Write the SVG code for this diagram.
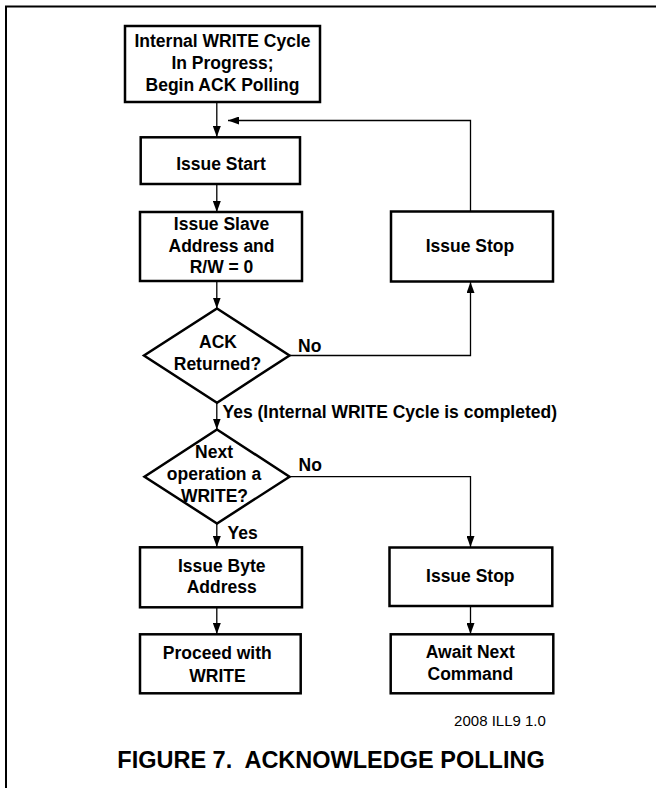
<svg xmlns="http://www.w3.org/2000/svg" width="656" height="788" viewBox="0 0 656 788">
<style>
.box{fill:#fff;stroke:#000;stroke-width:2.5}
.t{font-family:"Liberation Sans",Arial,sans-serif;font-weight:bold;font-size:17.5px;fill:#000;text-anchor:middle}
.l{font-family:"Liberation Sans",Arial,sans-serif;font-weight:bold;font-size:17.5px;fill:#000}
.c{fill:none;stroke:#000;stroke-width:1.3}
</style>
<defs>
<marker id="ah" markerUnits="userSpaceOnUse" markerWidth="11" markerHeight="8" refX="11" refY="4" orient="auto">
<path d="M0,0 L11,4 L0,8 z" fill="#000"/>
</marker>
</defs>
<rect width="656" height="788" fill="#fff"/>
<path d="M6,788 V6.5 H656" fill="none" stroke="#000" stroke-width="2"/>
<g id="connectors">
<path class="c" d="M216.8,102 V137" marker-end="url(#ah)"/>
<path class="c" d="M470.5,211 V120.5 H228" marker-end="url(#ah)"/>
<path class="c" d="M216.8,184 V212" marker-end="url(#ah)"/>
<path class="c" d="M216.8,281 V308.5" marker-end="url(#ah)"/>
<path class="c" d="M289.5,355.5 H470.5 V282" marker-end="url(#ah)"/>
<path class="c" d="M216.8,402.7 V429.5" marker-end="url(#ah)"/>
<path class="c" d="M289.5,476.7 H470.5 V547" marker-end="url(#ah)"/>
<path class="c" d="M216.8,523.5 V547" marker-end="url(#ah)"/>
<path class="c" d="M216.8,607.3 V634" marker-end="url(#ah)"/>
<path class="c" d="M470.5,606 V634" marker-end="url(#ah)"/>
<text class="l" x="298" y="351.7">No</text>
<text class="l" x="222.5" y="418">Yes (Internal WRITE Cycle is completed)</text>
<text class="l" x="298.5" y="470.5">No</text>
<text class="l" x="227.5" y="538.5">Yes</text>
</g>
<g id="n_begin">
<rect class="box" x="125" y="26" width="195" height="76"/>
<text class="t" x="222.5" y="47.3">Internal WRITE Cycle</text>
<text class="t" x="222.5" y="69.3">In Progress;</text>
<text class="t" x="222.5" y="90.7">Begin ACK Polling</text>
</g>
<g id="n_start">
<rect class="box" x="140.7" y="137.3" width="159.3" height="46.7"/>
<text class="t" x="221" y="170">Issue Start</text>
</g>
<g id="n_slave">
<rect class="box" x="140" y="212" width="162" height="69"/>
<text class="t" x="221.5" y="230">Issue Slave</text>
<text class="t" x="221.5" y="251.7">Address and</text>
<text class="t" x="221.5" y="272.7">R/W = 0</text>
</g>
<g id="n_stop1">
<rect class="box" x="391" y="211.5" width="162" height="70"/>
<text class="t" x="470" y="252">Issue Stop</text>
</g>
<g id="n_ack">
<polygon class="box" points="217,308.5 289.5,355.5 217,402.7 144,355.5"/>
<text class="t" x="218" y="348.3">ACK</text>
<text class="t" x="217.5" y="370">Returned?</text>
</g>
<g id="n_next">
<polygon class="box" points="217,429.5 289.5,476.7 217,523.5 144.5,476.7"/>
<text class="t" x="214" y="457.7">Next</text>
<text class="t" x="214" y="480">operation a</text>
<text class="t" x="214.5" y="501.7">WRITE?</text>
</g>
<g id="n_byte">
<rect class="box" x="140" y="547.3" width="162" height="60"/>
<text class="t" x="221.7" y="571.7">Issue Byte</text>
<text class="t" x="221.7" y="592.7">Address</text>
</g>
<g id="n_stop2">
<rect class="box" x="389.5" y="547.5" width="162.8" height="58.5"/>
<text class="t" x="470.3" y="581.7">Issue Stop</text>
</g>
<g id="n_proceed">
<rect class="box" x="140" y="634.3" width="160.7" height="59"/>
<text class="t" x="217.3" y="659.3">Proceed with</text>
<text class="t" x="217.5" y="681.7">WRITE</text>
</g>
<g id="n_await">
<rect class="box" x="390.7" y="634.3" width="162.6" height="59"/>
<text class="t" x="470.3" y="658.3">Await Next</text>
<text class="t" x="470.3" y="680">Command</text>
</g>
<text x="500" y="726" font-family="'Liberation Sans',Arial,sans-serif" font-size="15" text-anchor="middle">2008 ILL9 1.0</text>
<text x="331" y="767.7" font-family="'Liberation Sans',Arial,sans-serif" font-size="23.5" font-weight="bold" text-anchor="middle" style="white-space:pre">FIGURE 7.  ACKNOWLEDGE POLLING</text>
</svg>
